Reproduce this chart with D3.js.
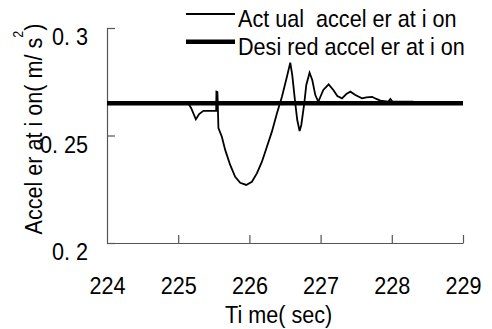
<!DOCTYPE html>
<html>
<head>
<meta charset="utf-8">
<script src="https://cdn.jsdelivr.net/npm/d3@7"></script>
<style>
  html, body { margin: 0; padding: 0; background: #fff; }
  svg { display: block; }
  text { font-family: "Liberation Sans", Arial, sans-serif; fill: #000; white-space: pre; }
</style>
</head>
<body>
<svg id="chart" width="492" height="329"></svg>
<script>
// ---- data ----
const actualTime = [225.143,225.181,225.248,225.294,225.354,225.533,225.537,225.551,225.565,225.613,
  225.660,225.730,225.800,225.871,225.955,226.035,226.105,226.176,226.246,226.316,226.387,226.457,
  226.527,226.574,226.602,226.644,226.672,226.705,226.729,226.771,226.799,226.845,226.883,226.926,
  226.968,226.996,227.038,227.113,227.179,227.235,227.301,227.361,227.418,227.488,227.582,227.643,
  227.723,227.783,227.840,227.952,227.980,228.008,228.304];
const actualAccel = [0.2649,0.2628,0.2575,0.2600,0.2615,0.2615,0.2704,0.2702,0.2535,0.2494,
  0.2433,0.2363,0.2308,0.2280,0.2270,0.2285,0.2324,0.2378,0.2448,0.2518,0.2603,0.2680,
  0.2773,0.2839,0.2781,0.2651,0.2572,0.2521,0.2549,0.2651,0.2735,0.2792,0.2758,0.2688,
  0.2657,0.2679,0.2712,0.2738,0.2712,0.2684,0.2673,0.2693,0.2704,0.2688,0.2673,0.2677,
  0.2680,0.2670,0.2662,0.2658,0.2670,0.2658,0.2658];
const desiredTime = [224, 229];
const desiredAccel = [0.265, 0.265];
const xTicks = [224, 225, 226, 227, 228, 229];
const xTickLabels = ["224", "225", "226", "227", "228", "229"];
const yTicks = [0.2, 0.25, 0.3];
const yTickLabels = ["0. 2", "0. 25", "0. 3"];
const seriesNames = ["Act ual  accel er at i on", "Desi red accel er at i on"];
const xTitle = "Ti me( sec)";
const yTitleMain = "Accel er at i on( m/ s";
const yTitleSup = "2";
const yTitleEnd = ")";

// ---- layout ----
const svg = d3.select("#chart");
const X0 = 107, X1 = 463, Y0 = 243, Y1 = 28;
const SX = 0.9; // horizontal glyph compression
const axisColor = "#555";

const x = d3.scaleLinear().domain([224, 229]).range([X0, X1]);
const y = d3.scaleLinear().domain([0.2, 0.3]).range([Y0, Y1]);

// x axis (ticks inward)
const gx = svg.append("g").attr("transform", `translate(0,${Y0})`)
  .call(d3.axisBottom(x).tickValues(xTicks).tickSizeInner(-8).tickSizeOuter(0).tickFormat((d, i) => xTickLabels[i]));
gx.select(".domain").attr("stroke", axisColor).attr("stroke-width", 1.2);
gx.selectAll(".tick line").attr("stroke", axisColor).attr("stroke-width", 1.2);
gx.selectAll(".tick").filter(d => d === 224).select("line").remove();
gx.selectAll(".tick text")
  .attr("font-size", 24).attr("fill", "#000")
  .attr("y", 0).attr("dy", 0)
  .attr("transform", `translate(0,51) scale(${SX},1)`)
  .attr("text-anchor", "middle");

// y axis (ticks inward)
const gy = svg.append("g").attr("transform", `translate(${X0},0)`)
  .call(d3.axisLeft(y).tickValues(yTicks).tickSizeInner(-8).tickSizeOuter(0).tickFormat((d, i) => yTickLabels[i]));
gy.select(".domain").attr("stroke", axisColor).attr("stroke-width", 1.2);
gy.selectAll(".tick line").attr("stroke", axisColor).attr("stroke-width", 1.2);
gy.selectAll(".tick text")
  .attr("font-size", 24).attr("fill", "#000")
  .attr("x", 0).attr("dy", 0)
  .attr("transform", `translate(-19,16.5) scale(${SX},1)`)
  .attr("text-anchor", "end");

// lines
const line = d3.line().x(d => x(d[0])).y(d => y(d[1]));
svg.append("path")
  .datum(desiredTime.map((t, i) => [t, desiredAccel[i]]))
  .attr("d", line).attr("fill", "none").attr("stroke", "#000").attr("stroke-width", 4.3);
svg.append("path")
  .datum(actualTime.map((t, i) => [t, actualAccel[i]]))
  .attr("d", line).attr("fill", "none").attr("stroke", "#000").attr("stroke-width", 1.8)
  .attr("stroke-linejoin", "miter");

// legend
const legend = svg.append("g");
const legY = [14, 41.7];
const legW = [2, 4.5];
seriesNames.forEach((name, i) => {
  legend.append("line").attr("x1", 186).attr("x2", 235).attr("y1", legY[i]).attr("y2", legY[i])
    .attr("stroke", "#000").attr("stroke-width", legW[i]);
  legend.append("text").attr("font-size", 24)
    .attr("transform", `translate(238,${legY[i] + 13}) scale(${SX},1)`)
    .text(name);
});

// axis titles
svg.append("text").attr("font-size", 24)
  .attr("transform", `translate(225,323) scale(${SX},1)`)
  .text(xTitle);

const yt = svg.append("text").attr("font-size", 24)
  .attr("text-anchor", "middle")
  .attr("transform", `translate(42,129) rotate(-90) scale(${SX},1)`);
yt.append("tspan").text(yTitleMain);
yt.append("tspan").attr("font-size", 14).attr("dy", -19).text(yTitleSup);
yt.append("tspan").attr("dy", 19).text(yTitleEnd);
</script>
</body>
</html>
